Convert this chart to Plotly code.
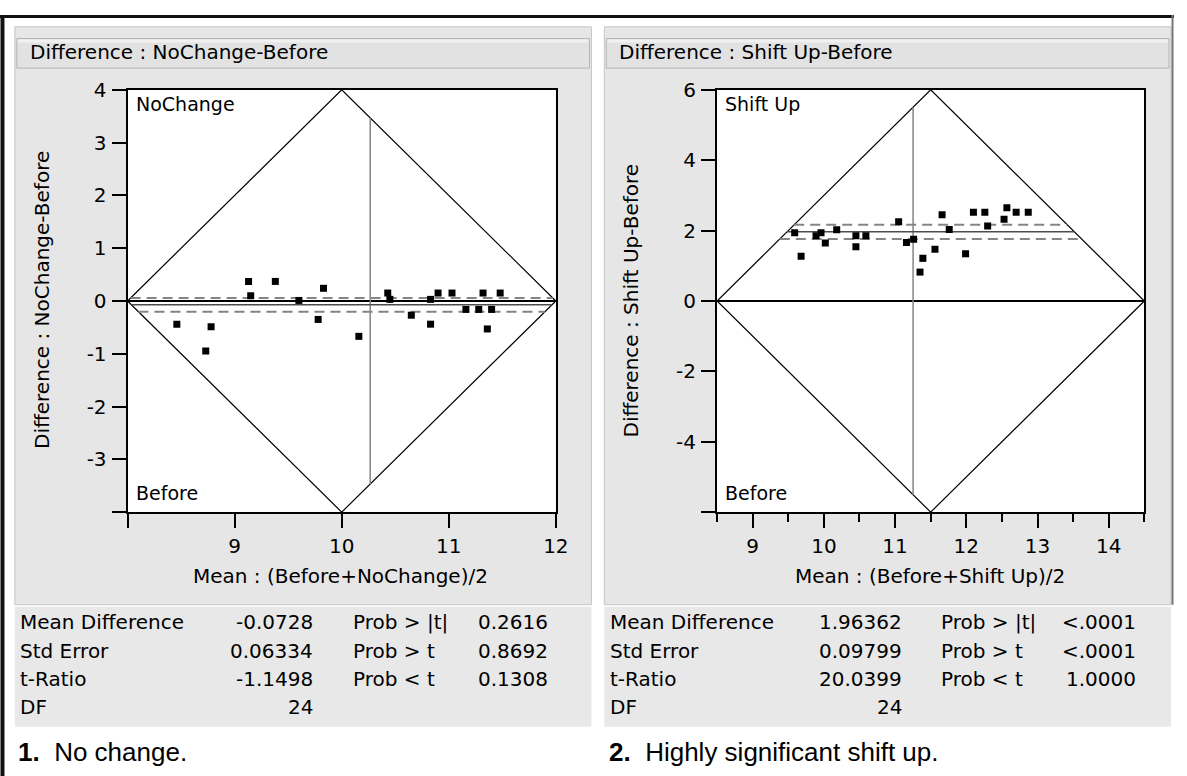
import plotly.graph_objects as go

W, H = 1187, 776

# ---------------- data ----------------
left_mean = [9.13, 9.15, 9.38, 9.60, 9.83, 9.78, 8.46, 8.78, 8.73, 10.16, 10.43, 10.45,
             10.65, 10.83, 10.83, 10.90, 11.03, 11.16, 11.28, 11.32, 11.40, 11.36, 11.48]
left_diff = [0.37, 0.10, 0.37, 0.01, 0.24, -0.35, -0.44, -0.49, -0.95, -0.67, 0.15, 0.03,
             -0.27, 0.03, -0.44, 0.15, 0.15, -0.16, -0.16, 0.15, -0.16, -0.53, 0.15]

right_mean = [9.59, 9.68, 9.89, 9.96, 10.02, 10.18, 10.45, 10.45, 10.59, 11.05, 11.16, 11.26,
              11.39, 11.35, 11.56, 11.66, 11.76, 11.99, 12.10, 12.26, 12.30, 12.53, 12.57,
              12.70, 12.87]
right_diff = [1.94, 1.27, 1.85, 1.94, 1.65, 2.02, 1.85, 1.54, 1.85, 2.25, 1.66, 1.75,
              1.21, 0.82, 1.47, 2.45, 2.03, 1.34, 2.52, 2.52, 2.13, 2.32, 2.65, 2.52, 2.52]

left_xrange = [8, 12]
left_yrange = [-4, 4]
right_xrange = [8.5, 14.5]
right_yrange = [-6, 6]

left_xticks = [8, 9, 10, 11, 12]
left_xticktext = ["", "9", "10", "11", "12"]
left_yticks = [4, 3, 2, 1, 0, -1, -2, -3, -4]
left_yticktext = ["4", "3", "2", "1", "0", "-1", "-2", "-3", ""]
right_xticks = [9, 10, 11, 12, 13, 14]
right_xticktext = ["9", "10", "11", "12", "13", "14"]
right_xminor = [8.5, 9.5, 10.5, 11.5, 12.5, 13.5, 14.5]
right_yticks = [6, 4, 2, 0, -2, -4, -6]
right_yticktext = ["6", "4", "2", "0", "-2", "-4", ""]

left_stats = {"mean": -0.0728, "se": 0.06334, "t": -1.1498, "df": 24}
right_stats = {"mean": 1.96362, "se": 0.09799, "t": 20.0399, "df": 24}
t_crit = 2.0639

table_labels = ["Mean Difference", "Std Error", "t-Ratio", "DF"]
left_table_values = ["-0.0728", "0.06334", "-1.1498", "24"]
prob_labels = ["Prob > |t|", "Prob > t", "Prob < t"]
left_prob_values = ["0.2616", "0.8692", "0.1308"]
right_table_values = ["1.96362", "0.09799", "20.0399", "24"]
right_prob_values = ["<.0001", "<.0001", "1.0000"]

# ---------------- layout geometry (pixels) ----------------
def px(x):
    return x / W

def py(y):
    return 1 - y / H

L_plot = (129, 562)
R_plot = (725, 1157)
Y_plot = (79, 508)

FONT = "DejaVu Sans"
fig = go.Figure()


def diamond(xr, yr):
    xc = (xr[0] + xr[1]) / 2
    return [xr[0], xc, xr[1], xc, xr[0]], [0, yr[1], 0, yr[0], 0]


def span(y, xr, yr):
    slope = yr[1] / ((xr[1] - xr[0]) / 2)
    d = abs(y) / slope
    return [xr[0] + d, xr[1] - d]


def add_panel(xa, ya, xs, ys, xr, yr, st):
    dx, dy = diamond(xr, yr)
    fig.add_trace(go.Scatter(x=dx, y=dy, mode="lines", line=dict(color="black", width=1.2),
                             xaxis=xa, yaxis=ya, hoverinfo="skip", cliponaxis=False))
    fig.add_trace(go.Scatter(x=xr, y=[0, 0], mode="lines", line=dict(color="black", width=2),
                             xaxis=xa, yaxis=ya, hoverinfo="skip"))
    mx = sum(xs) / len(xs)
    xc = (xr[0] + xr[1]) / 2
    slope = yr[1] / ((xr[1] - xr[0]) / 2)
    vtop = yr[1] - slope * abs(mx - xc)
    fig.add_trace(go.Scatter(x=[mx, mx], y=[-vtop, vtop], mode="lines",
                             line=dict(color="#858585", width=1.5),
                             xaxis=xa, yaxis=ya, hoverinfo="skip"))
    m = st["mean"]
    fig.add_trace(go.Scatter(x=span(m, xr, yr), y=[m, m], mode="lines",
                             line=dict(color="#4d4d4d", width=1.5),
                             xaxis=xa, yaxis=ya, hoverinfo="skip"))
    for yv in (m + t_crit * st["se"], m - t_crit * st["se"]):
        fig.add_trace(go.Scatter(x=span(yv, xr, yr), y=[yv, yv], mode="lines",
                                 line=dict(color="#858585", width=2, dash="10px,6px"),
                                 xaxis=xa, yaxis=ya, hoverinfo="skip"))
    fig.add_trace(go.Scatter(x=xs, y=ys, mode="markers",
                             marker=dict(symbol="square", size=7, color="black",
                                         line=dict(width=0)),
                             xaxis=xa, yaxis=ya, hoverinfo="skip"))


add_panel("x", "y", left_mean, left_diff, left_xrange, left_yrange, left_stats)
add_panel("x2", "y2", right_mean, right_diff, right_xrange, right_yrange, right_stats)

axis_common = dict(showline=True, linecolor="black", linewidth=2, mirror=True,
                   ticks="outside", ticklen=14, tickwidth=2, tickcolor="black",
                   ticklabelstandoff=1,
                   showgrid=False, zeroline=False, fixedrange=True,
                   tickfont=dict(family=FONT, size=20, color="black"))

fig.update_layout(
    width=W, height=H, margin=dict(l=0, r=0, t=0, b=0),
    paper_bgcolor="white", plot_bgcolor="white", showlegend=False,
    xaxis=dict(domain=[px(L_plot[0]), px(L_plot[1])], range=left_xrange, anchor="y",
               tickvals=left_xticks, ticktext=left_xticktext, **axis_common),
    yaxis=dict(domain=[py(Y_plot[1]), py(Y_plot[0])], range=left_yrange, anchor="x",
               tickvals=left_yticks, ticktext=left_yticktext, **axis_common),
    xaxis2=dict(domain=[px(R_plot[0]), px(R_plot[1])], range=right_xrange, anchor="y2",
                tickvals=right_xticks, ticktext=right_xticktext,
                minor=dict(tickvals=right_xminor, ticklen=8, tickwidth=2, tickcolor="black",
                           ticks="outside"),
                **axis_common),
    yaxis2=dict(domain=[py(Y_plot[1]), py(Y_plot[0])], range=right_yrange, anchor="x2",
                tickvals=right_yticks, ticktext=right_yticktext, **axis_common),
)

shapes = []
# outer frame
shapes.append(dict(type="line", xref="paper", yref="paper", x0=0, x1=1, y0=py(4.5), y1=py(4.5),
                   line=dict(color="#111111", width=3)))
shapes.append(dict(type="line", xref="paper", yref="paper", x0=px(2.5), x1=px(2.5), y0=py(3), y1=0,
                   line=dict(color="#111111", width=4)))
shapes.append(dict(type="line", xref="paper", yref="paper", x0=px(1185.5), x1=px(1185.5), y0=py(3),
                   y1=py(602), line=dict(color="#777777", width=2)))

for (x0, x1) in [(15, 598), (611, 1184)]:
    shapes.append(dict(type="rect", xref="paper", yref="paper", x0=px(x0), x1=px(x1), y0=py(602), y1=py(15),
                       fillcolor="#e6e6e6", line=dict(color="#c6c6c6", width=1), layer="below"))
    shapes.append(dict(type="rect", xref="paper", yref="paper", x0=px(x0 + 2), x1=px(x1 - 2), y0=py(57), y1=py(27),
                       fillcolor="#e2e2e2", line=dict(color="#b4b4b4", width=1), layer="below"))
    shapes.append(dict(type="rect", xref="paper", yref="paper", x0=px(x0 + 3), x1=px(x1 - 3), y0=py(31), y1=py(28),
                       fillcolor="#f1f1f1", line=dict(width=0), layer="below"))
    shapes.append(dict(type="rect", xref="paper", yref="paper", x0=px(x0), x1=px(x1), y0=py(726), y1=py(604),
                       fillcolor="#e8e8e8", line=dict(width=0), layer="below"))
for (a, b) in [L_plot, R_plot]:
    shapes.append(dict(type="rect", xref="paper", yref="paper", x0=px(a), x1=px(b),
                       y0=py(Y_plot[1]), y1=py(Y_plot[0]),
                       fillcolor="white", line=dict(width=0), layer="below"))
fig.update_layout(shapes=shapes)

ann = []


def text(x, y, s, size=20, anchor="left", family=FONT, angle=0):
    ann.append(dict(x=px(x), y=py(y), xref="paper", yref="paper", text=s, showarrow=False,
                    xanchor=anchor, yanchor="middle", textangle=angle, borderpad=0,
                    font=dict(family=family, size=size, color="black")))


text(29, 41, "Difference : NoChange-Before", 20)
text(625, 41, "Difference : Shift Up-Before", 20)
text(136, 93, "NoChange", 19)
text(136, 489, "Before", 19)
text(732, 93, "Shift Up", 19)
text(732, 489, "Before", 19)
text(344, 573, "Mean : (Before+NoChange)/2", 20, anchor="center")
text(940, 573, "Mean : (Before+Shift Up)/2", 20, anchor="center")
text(43, 293, "Difference : NoChange-Before", 20, anchor="center", angle=-90)
text(638, 293, "Difference : Shift Up-Before", 20, anchor="center", angle=-90)

rows_y = [620, 649, 677, 706]
for i, lab in enumerate(table_labels):
    text(19, rows_y[i], lab, 20)
    text(317, rows_y[i], left_table_values[i], 20, anchor="right")
    text(616, rows_y[i], lab, 20)
    text(913, rows_y[i], right_table_values[i], 20, anchor="right")
for i, lab in enumerate(prob_labels):
    text(356, rows_y[i], lab, 20)
    text(555, rows_y[i], left_prob_values[i], 20, anchor="right")
    text(950, rows_y[i], lab, 20)
    text(1150, rows_y[i], right_prob_values[i], 20, anchor="right")

text(17, 752, "<b>1.</b>  No change.", 26, family="Liberation Sans")
text(615, 752, "<b>2.</b>  Highly significant shift up.", 26, family="Liberation Sans")

fig.update_layout(annotations=ann)
fig.write_html("out.html", config={"displayModeBar": False},
               post_script="document.body.style.margin='0';")
